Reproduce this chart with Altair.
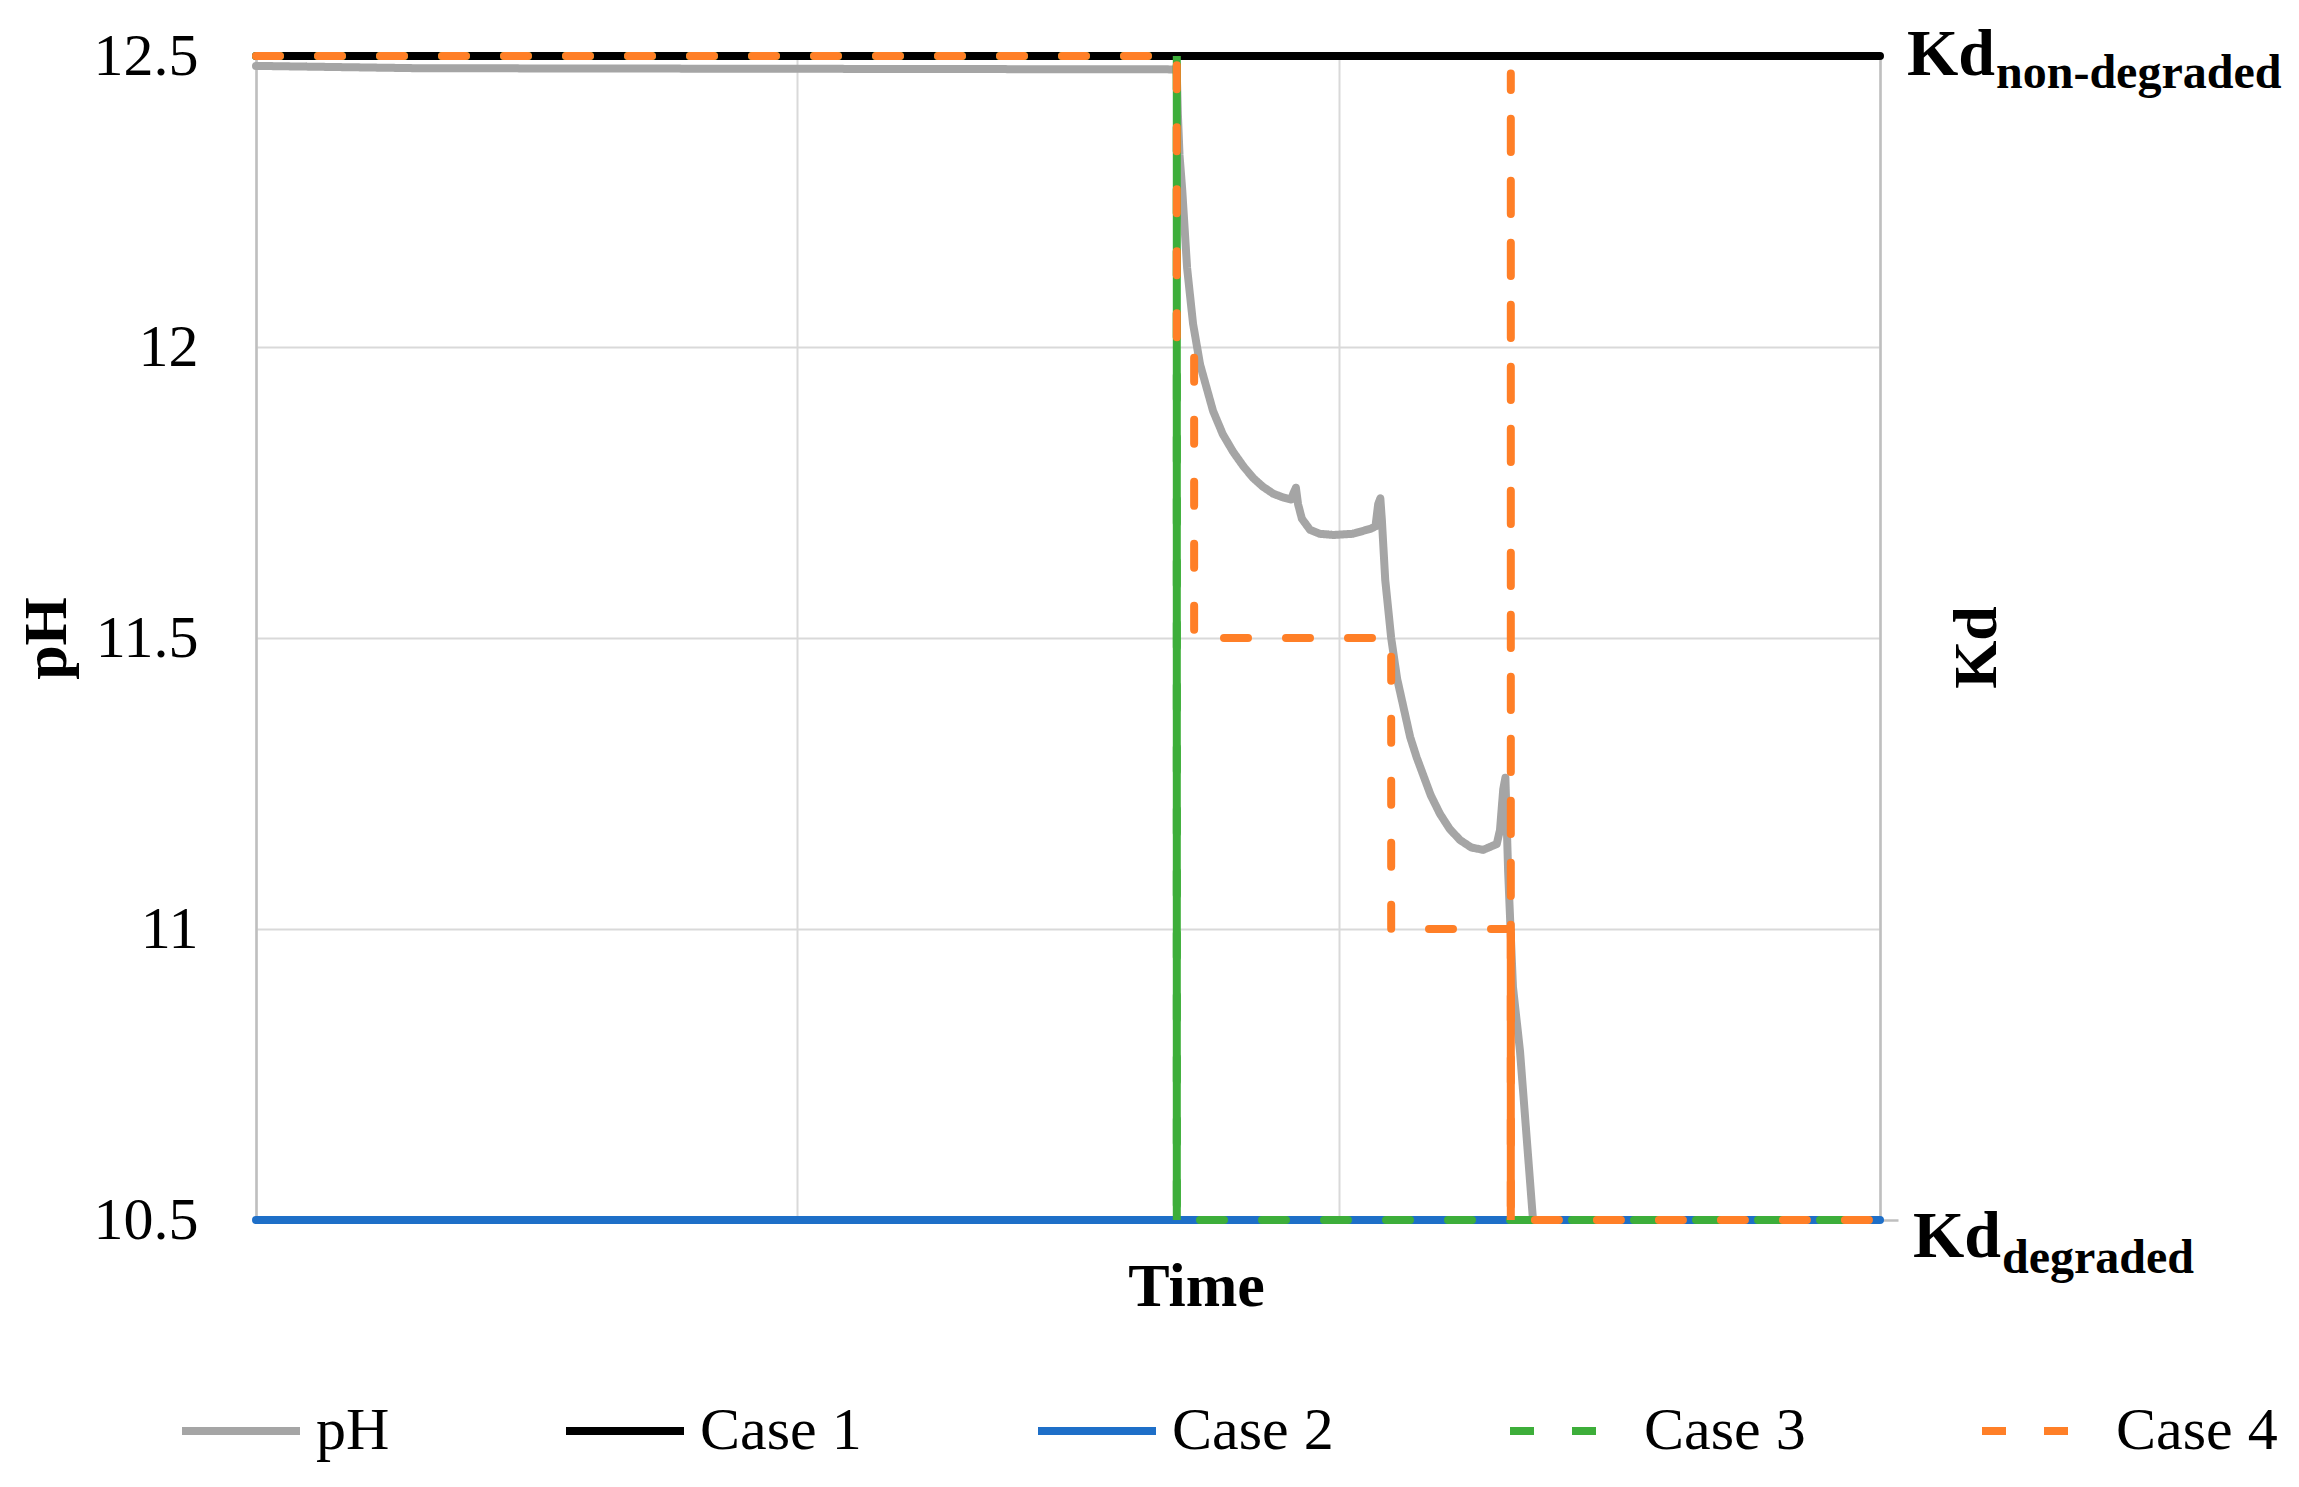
import altair as alt
import pandas as pd

SERIF = "Liberation Serif"

# ---- series definitions ----
series_names = ["pH", "Case 1", "Case 2", "Case 3", "Case 4"]
series_colors = ["#A5A5A5", "#000000", "#1E6FC8", "#3DAE3A", "#FF7F27"]
series_dash = [[1, 0], [1, 0], [1, 0], [24, 38], [24, 38]]

# ---- data (time in arbitrary units, 0..3) ----
ph_time = [0.0, 0.3, 1.0, 1.699, 1.701, 1.703, 1.706, 1.711, 1.720, 1.731, 1.744,
           1.768, 1.786, 1.805, 1.824, 1.842, 1.860, 1.879, 1.896, 1.912, 1.917,
           1.921, 1.925, 1.932, 1.947, 1.965, 1.990, 2.026, 2.060, 2.068, 2.073,
           2.077, 2.080, 2.086, 2.097, 2.108, 2.120, 2.132, 2.144, 2.156, 2.170,
           2.187, 2.205, 2.224, 2.245, 2.267, 2.292, 2.298, 2.304, 2.308, 2.313,
           2.322, 2.335, 2.359]
ph_value = [12.483, 12.479, 12.478, 12.477, 12.47, 12.40, 12.33, 12.27, 12.136, 12.04, 11.97,
            11.89, 11.85, 11.82, 11.795, 11.775, 11.76, 11.748, 11.742, 11.738, 11.750,
            11.758, 11.73, 11.705, 11.686, 11.679, 11.677, 11.679, 11.688, 11.692, 11.730,
            11.740, 11.70, 11.60, 11.50, 11.43, 11.38, 11.33, 11.295, 11.265, 11.23,
            11.198, 11.172, 11.153, 11.14, 11.136, 11.146, 11.17, 11.24, 11.26, 11.10,
            10.90, 10.79, 10.50]

case1_time = [0.0, 3.0]
case1_value = [12.5, 12.5]

case2_time = [0.0, 3.0]
case2_value = [10.5, 10.5]

case3_time = [0.0, 1.701, 1.701, 3.0]
case3_value = [12.5, 12.5, 10.5, 10.5]

case4_time = [0.0, 1.701, 1.701, 1.733, 1.733, 2.097, 2.097, 2.318, 2.318, 2.318, 3.0]
case4_value = [12.5, 12.5, 12.0, 12.0, 11.5, 11.5, 11.0, 11.0, 12.47, 10.5, 10.5]

# densely sampled (solid-looking) drops inside the dashed series
case3_drop_time = [1.701, 1.701]
case3_drop_value = [12.5, 10.5]
case4_drop_time = [2.318, 2.318]
case4_drop_value = [11.0, 10.5]

kd_levels = [12.5, 10.5]
kd_main = ["Kd", "Kd"]
kd_subs = ["non-degraded", "degraded"]

y_ticks = [10.5, 11, 11.5, 12, 12.5]
x_grid = [0, 1, 2, 3]


def frame(name, ts, vs):
    return pd.DataFrame({"series": name, "t": ts, "v": vs, "idx": list(range(len(ts)))})


all_series = {
    "pH": (ph_time, ph_value),
    "Case 1": (case1_time, case1_value),
    "Case 2": (case2_time, case2_value),
    "Case 3": (case3_time, case3_value),
    "Case 4": (case4_time, case4_value),
}
df = pd.concat([frame(k, *v) for k, v in all_series.items()], ignore_index=True)
drops = pd.concat([frame("Case 3", case3_drop_time, case3_drop_value),
                   frame("Case 4", case4_drop_time, case4_drop_value)], ignore_index=True)

W, H = 1624, 1164
LW = 8

x_enc = alt.X(
    "t:Q",
    scale=alt.Scale(domain=[0, 3], nice=False, zero=False),
    axis=alt.Axis(values=x_grid, labels=False, ticks=False, domain=False, grid=True,
                  gridColor="#D9D9D9", gridWidth=2,
                  title="Time", titleFont=SERIF, titleFontSize=62, titleFontWeight="bold",
                  titleColor="black", titleX=940, titleY=85, titleBaseline="alphabetic",
                  titleAlign="center"),
)
y_enc = alt.Y(
    "v:Q",
    scale=alt.Scale(domain=[10.5, 12.5], nice=False, zero=False),
    axis=alt.Axis(values=y_ticks, format="~g", labelFont=SERIF, labelFontSize=60,
                  labelColor="black", labelPadding=58, ticks=False, tickSize=0,
                  domain=True, domainColor="#BFBFBF", domainWidth=2.5,
                  grid=True, gridColor="#D9D9D9", gridWidth=2,
                  title="pH", titleFont=SERIF, titleFontSize=62, titleFontWeight="bold",
                  titleColor="black", titleX=-191, titleY=582, titleAngle=270,
                  titleBaseline="alphabetic", titleAlign="center"),
)

legend = alt.Legend(title=None, orient="none", legendX=-78, legendY=1312,
                    direction="horizontal", columns=5, columnPadding=160,
                    labelFont=SERIF, labelFontSize=60, labelColor="black", labelOffset=12,
                    labelLimit=500, symbolType="stroke", symbolSize=13924,
                    symbolStrokeWidth=LW, padding=0, rowPadding=0)

color_enc = alt.Color("series:N", scale=alt.Scale(domain=series_names, range=series_colors),
                      legend=legend)
dash_enc = alt.StrokeDash("series:N", scale=alt.Scale(domain=series_names, range=series_dash),
                          legend=legend)

base = alt.Chart(df).mark_line(strokeWidth=LW, strokeCap="round", strokeJoin="round").encode(
    x=x_enc, y=y_enc, color=color_enc, strokeDash=dash_enc, order=alt.Order("idx:Q")
)

layers = []
for name in series_names:
    layers.append(base.transform_filter(alt.datum.series == name))
    if name in ("Case 3", "Case 4"):
        col = series_colors[series_names.index(name)]
        layers.append(
            alt.Chart(drops).transform_filter(alt.datum.series == name)
            .mark_line(strokeWidth=LW, strokeCap="butt", color=col)
            .encode(x=alt.X("t:Q"), y=alt.Y("v:Q"), order=alt.Order("idx:Q"))
        )

lines = alt.layer(*layers)

# ---- secondary (Kd) axis with annotations ----
kd_df = pd.DataFrame({"level": kd_levels, "main": kd_main, "sub": kd_subs})
kd_y = alt.Y(
    "level:Q",
    scale=alt.Scale(domain=[10.5, 12.5], nice=False, zero=False),
    axis=alt.Axis(orient="right", values=[10.5], labels=False, ticks=True, tickSize=18,
                  tickColor="#BFBFBF", tickWidth=2.5, domainColor="#BFBFBF", domainWidth=2.5,
                  grid=False, title="Kd", titleFont=SERIF, titleFontSize=62,
                  titleFontWeight="bold", titleColor="black", titleX=115, titleY=591,
                  titleAngle=270, titleBaseline="alphabetic", titleAlign="center"),
)
kd_base = alt.Chart(kd_df)
kd_top_main = kd_base.transform_filter(alt.datum.level == 12.5).mark_text(
    align="left", baseline="alphabetic", dy=19, font=SERIF, fontSize=66, fontWeight="bold",
    color="black").encode(x=alt.value(1651), y=kd_y, text="main:N")
kd_top_sub = kd_base.transform_filter(alt.datum.level == 12.5).mark_text(
    align="left", baseline="alphabetic", dy=32, font=SERIF, fontSize=48, fontWeight="bold",
    color="black").encode(x=alt.value(1740), y=kd_y, text="sub:N")
kd_bot_main = kd_base.transform_filter(alt.datum.level == 10.5).mark_text(
    align="left", baseline="alphabetic", dy=37, font=SERIF, fontSize=66, fontWeight="bold",
    color="black").encode(x=alt.value(1657), y=kd_y, text="main:N")
kd_bot_sub = kd_base.transform_filter(alt.datum.level == 10.5).mark_text(
    align="left", baseline="alphabetic", dy=53, font=SERIF, fontSize=48, fontWeight="bold",
    color="black").encode(x=alt.value(1746), y=kd_y, text="sub:N")

kd_layer = alt.layer(kd_top_main, kd_top_sub, kd_bot_main, kd_bot_sub)

chart = (
    alt.layer(lines, kd_layer)
    .resolve_scale(y="independent")
    .properties(width=W, height=H, autosize=alt.AutoSizeParams(type="none"),
                padding={"left": 248, "top": 48, "right": 410, "bottom": 250},
                background="white")
    .configure_view(strokeWidth=0)
)

chart.save("out.html", embed_options={"renderer": "svg", "actions": False})
